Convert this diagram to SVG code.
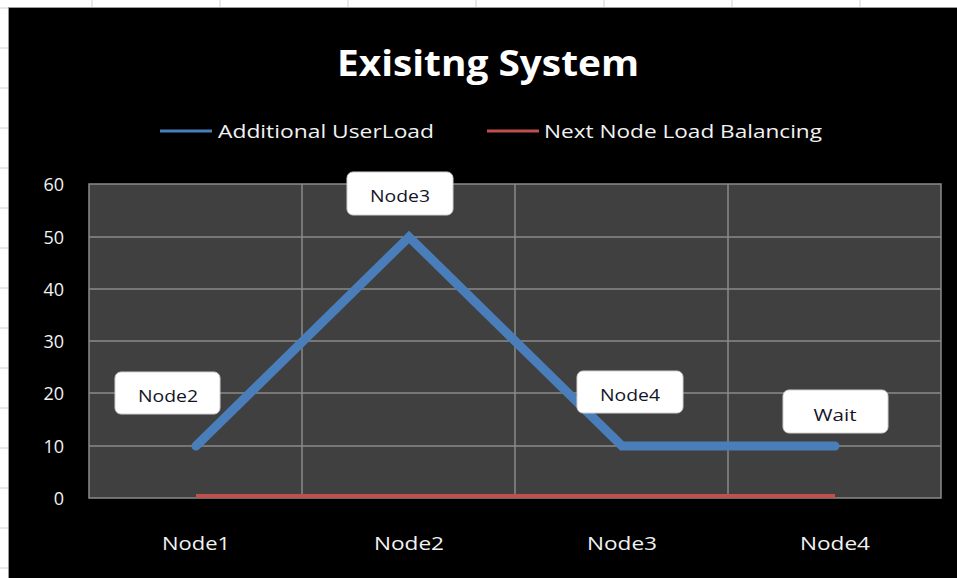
<svg xmlns="http://www.w3.org/2000/svg" width="957" height="578" viewBox="0 0 957 578">
<style>
.tick{stroke:#d4d8e0;stroke-width:1.2}
.grid{stroke:#8a8a8a;stroke-width:1.5;fill:none}
.ax{font-family:"Open Sans","Liberation Sans",sans-serif;font-size:18px;fill:#f2f2f2}
.lab{font-family:"Open Sans","Liberation Sans",sans-serif;font-size:16.5px;fill:#141428;text-anchor:middle}
.box{fill:#ffffff;stroke:#d0d0d0;stroke-width:1}
</style>
<rect x="0" y="0" width="957" height="578" fill="#ffffff"/>
<g id="sheet-ticks">
<line class="tick" x1="92" y1="0" x2="92" y2="7"/>
<line class="tick" x1="220" y1="0" x2="220" y2="7"/>
<line class="tick" x1="348" y1="0" x2="348" y2="7"/>
<line class="tick" x1="476" y1="0" x2="476" y2="7"/>
<line class="tick" x1="604" y1="0" x2="604" y2="7"/>
<line class="tick" x1="732" y1="0" x2="732" y2="7"/>
<line class="tick" x1="860" y1="0" x2="860" y2="7"/>
<line class="tick" x1="0" y1="8" x2="8" y2="8"/>
<line class="tick" x1="0" y1="48" x2="8" y2="48"/>
<line class="tick" x1="0" y1="88" x2="8" y2="88"/>
<line class="tick" x1="0" y1="128" x2="8" y2="128"/>
<line class="tick" x1="0" y1="168" x2="8" y2="168"/>
<line class="tick" x1="0" y1="208" x2="8" y2="208"/>
<line class="tick" x1="0" y1="248" x2="8" y2="248"/>
<line class="tick" x1="0" y1="288" x2="8" y2="288"/>
<line class="tick" x1="0" y1="328" x2="8" y2="328"/>
<line class="tick" x1="0" y1="368" x2="8" y2="368"/>
<line class="tick" x1="0" y1="408" x2="8" y2="408"/>
<line class="tick" x1="0" y1="448" x2="8" y2="448"/>
<line class="tick" x1="0" y1="488" x2="8" y2="488"/>
<line class="tick" x1="0" y1="528" x2="8" y2="528"/>
<line class="tick" x1="0" y1="568" x2="8" y2="568"/>
</g>
<rect x="8.5" y="7.5" width="950" height="572" fill="#000000" stroke="#9a9a9a" stroke-width="1"/>
<text x="488" y="76" text-anchor="middle" font-family="'Open Sans','Liberation Sans',sans-serif" font-weight="bold" font-size="35" fill="#ffffff" textLength="302" lengthAdjust="spacingAndGlyphs">Exisitng System</text>
<g id="legend">
<line x1="160" y1="131" x2="212" y2="131" stroke="#4a7ebb" stroke-width="3"/>
<text class="ax" x="218" y="138" textLength="216" lengthAdjust="spacingAndGlyphs">Additional UserLoad</text>
<line x1="487" y1="131" x2="539" y2="131" stroke="#c0504d" stroke-width="3"/>
<text class="ax" x="544" y="138" textLength="278" lengthAdjust="spacingAndGlyphs">Next Node  Load Balancing</text>
</g>
<g id="plot">
<rect x="89" y="184" width="852" height="314" fill="#404040"/>
<line class="grid" x1="89" y1="237" x2="941" y2="237"/>
<line class="grid" x1="89" y1="289" x2="941" y2="289"/>
<line class="grid" x1="89" y1="341" x2="941" y2="341"/>
<line class="grid" x1="89" y1="393" x2="941" y2="393"/>
<line class="grid" x1="89" y1="446" x2="941" y2="446"/>
<line class="grid" x1="302" y1="184" x2="302" y2="498"/>
<line class="grid" x1="515" y1="184" x2="515" y2="498"/>
<line class="grid" x1="728" y1="184" x2="728" y2="498"/>
<rect class="grid" x="89" y="184" width="852" height="314"/>
</g>
<g id="axis-labels">
<text class="ax" x="64" y="191" text-anchor="end">60</text>
<text class="ax" x="64" y="244" text-anchor="end">50</text>
<text class="ax" x="64" y="296" text-anchor="end">40</text>
<text class="ax" x="64" y="348" text-anchor="end">30</text>
<text class="ax" x="64" y="400" text-anchor="end">20</text>
<text class="ax" x="64" y="453" text-anchor="end">10</text>
<text class="ax" x="64" y="505" text-anchor="end">0</text>
<text class="ax" x="196" y="550" text-anchor="middle" textLength="68" lengthAdjust="spacingAndGlyphs">Node1</text>
<text class="ax" x="409" y="550" text-anchor="middle" textLength="70" lengthAdjust="spacingAndGlyphs">Node2</text>
<text class="ax" x="622" y="550" text-anchor="middle" textLength="70" lengthAdjust="spacingAndGlyphs">Node3</text>
<text class="ax" x="835" y="550" text-anchor="middle" textLength="70" lengthAdjust="spacingAndGlyphs">Node4</text>
</g>
<g id="connectors">
<line x1="196" y1="496" x2="835" y2="496" stroke="#c0504d" stroke-width="4"/>
<polyline points="196,446 409,237 622,446 835,446" fill="none" stroke="#4a7ebb" stroke-width="9" stroke-linejoin="miter" stroke-linecap="round"/>
</g>
<g id="label-node2">
<rect class="box" x="115" y="372" width="105" height="42" rx="6"/>
<text class="lab" x="168" y="402" textLength="60" lengthAdjust="spacingAndGlyphs">Node2</text>
</g>
<g id="label-node3">
<rect class="box" x="347" y="172" width="106" height="43" rx="6"/>
<text class="lab" x="400" y="202" textLength="60" lengthAdjust="spacingAndGlyphs">Node3</text>
</g>
<g id="label-node4">
<rect class="box" x="577" y="371" width="106" height="42" rx="6"/>
<text class="lab" x="630" y="401" textLength="60" lengthAdjust="spacingAndGlyphs">Node4</text>
</g>
<g id="label-wait">
<rect class="box" x="783" y="390" width="105" height="43" rx="6"/>
<text class="lab" x="835" y="421" textLength="43" lengthAdjust="spacingAndGlyphs">Wait</text>
</g>
</svg>
